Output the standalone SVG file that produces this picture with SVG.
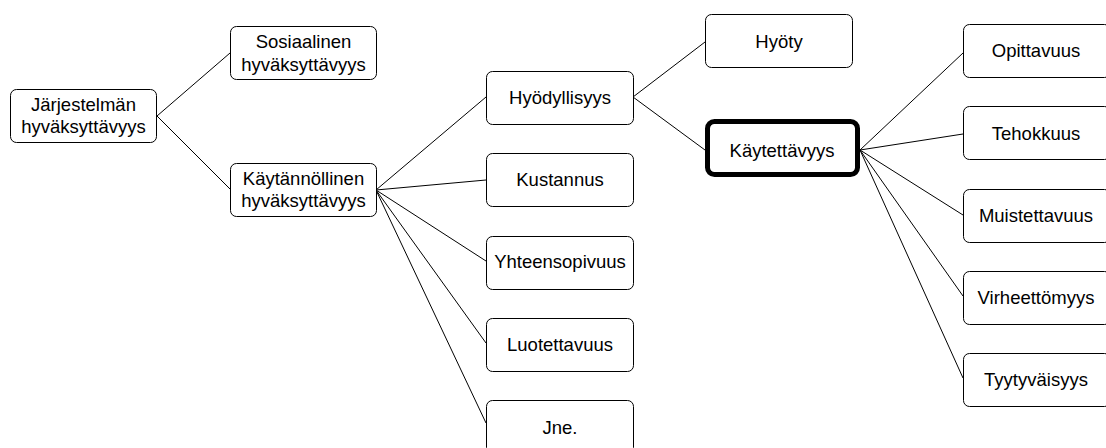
<svg xmlns="http://www.w3.org/2000/svg" width="1106" height="448" viewBox="0 0 1106 448">
<style>
.box{fill:#fff;stroke:#000;stroke-width:1}
.thick{fill:#fff;stroke:#000;stroke-width:5}
.t{font-family:"Liberation Sans",Arial,sans-serif;font-size:18.5px;fill:#000;text-anchor:middle}
.c line{stroke:#000;stroke-width:1}
</style>
<rect width="1106" height="448" fill="#fff"/>
<g class="c" id="connectors">
<line x1="157" y1="116" x2="230" y2="53"/>
<line x1="157" y1="116" x2="230" y2="189"/>
<line x1="376" y1="190" x2="486" y2="97"/>
<line x1="376" y1="190" x2="486" y2="180"/>
<line x1="376" y1="190" x2="486" y2="261"/>
<line x1="376" y1="190" x2="486" y2="343"/>
<line x1="376" y1="190" x2="486" y2="423"/>
<line x1="633" y1="97" x2="705" y2="42"/>
<line x1="633" y1="97" x2="705" y2="150"/>
<line x1="860" y1="150" x2="963" y2="53"/>
<line x1="860" y1="150" x2="963" y2="134"/>
<line x1="860" y1="150" x2="963" y2="215"/>
<line x1="860" y1="150" x2="963" y2="296"/>
<line x1="860" y1="150" x2="963" y2="378"/>
</g>
<g id="jarjestelman">
<rect class="box" x="10.5" y="89.5" width="146" height="53" rx="6"/>
<text class="t" x="83.5" y="111">Järjestelmän</text>
<text class="t" x="83.5" y="133">hyväksyttävyys</text>
</g>
<g id="sosiaalinen">
<rect class="box" x="230.5" y="26.5" width="146" height="53" rx="6"/>
<text class="t" x="303.5" y="48">Sosiaalinen</text>
<text class="t" x="303.5" y="71">hyväksyttävyys</text>
</g>
<g id="kaytannollinen">
<rect class="box" x="230.5" y="163.5" width="146" height="53" rx="6"/>
<text class="t" x="303.5" y="185">Käytännöllinen</text>
<text class="t" x="303.5" y="207">hyväksyttävyys</text>
</g>
<g id="hyodyllisyys">
<rect class="box" x="486.5" y="71.5" width="147" height="53" rx="6"/>
<text class="t" x="560" y="104">Hyödyllisyys</text>
</g>
<g id="kustannus">
<rect class="box" x="486.5" y="153.5" width="147" height="53" rx="6"/>
<text class="t" x="560" y="186">Kustannus</text>
</g>
<g id="yhteensopivuus">
<rect class="box" x="486.5" y="236.5" width="147" height="53" rx="6"/>
<text class="t" x="560" y="268">Yhteensopivuus</text>
</g>
<g id="luotettavuus">
<rect class="box" x="486.5" y="318.5" width="147" height="53" rx="6"/>
<text class="t" x="560" y="351">Luotettavuus</text>
</g>
<g id="jne">
<rect class="box" x="486.5" y="400.5" width="147" height="53" rx="6"/>
<text class="t" x="560" y="434">Jne.</text>
</g>
<g id="hyoty">
<rect class="box" x="705.5" y="14.5" width="147" height="53" rx="6"/>
<text class="t" x="779" y="48">Hyöty</text>
</g>
<g id="kaytettavyys">
<rect class="thick" x="707.5" y="121.5" width="150" height="53" rx="7"/>
<text class="t" x="782" y="157">Käytettävyys</text>
</g>
<g id="opittavuus">
<rect class="box" x="963.5" y="24.5" width="147" height="53" rx="6"/>
<text class="t" x="1036" y="57">Opittavuus</text>
</g>
<g id="tehokkuus">
<rect class="box" x="963.5" y="106.5" width="147" height="53" rx="6"/>
<text class="t" x="1036" y="140">Tehokkuus</text>
</g>
<g id="muistettavuus">
<rect class="box" x="963.5" y="189.5" width="147" height="53" rx="6"/>
<text class="t" x="1036" y="222">Muistettavuus</text>
</g>
<g id="virheettomyys">
<rect class="box" x="963.5" y="271.5" width="147" height="53" rx="6"/>
<text class="t" x="1036" y="304">Virheettömyys</text>
</g>
<g id="tyytyvaisyys">
<rect class="box" x="963.5" y="353.5" width="147" height="53" rx="6"/>
<text class="t" x="1036" y="386">Tyytyväisyys</text>
</g>
</svg>
